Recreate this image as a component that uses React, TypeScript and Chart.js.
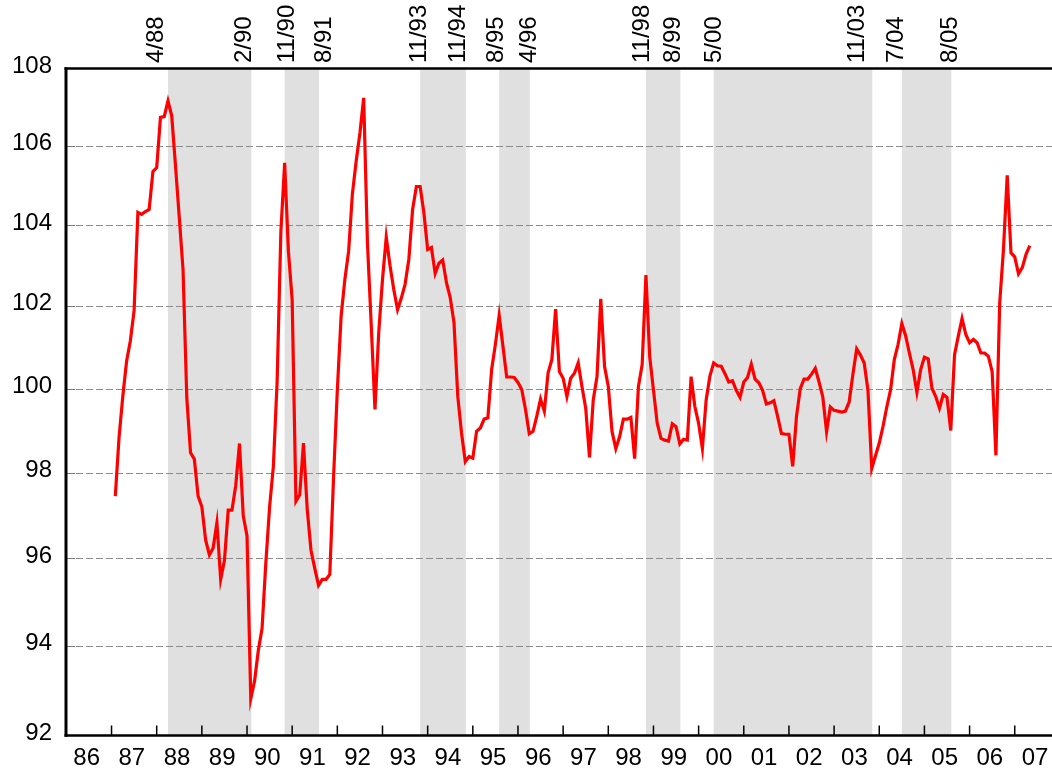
import React, { useEffect, useRef } from 'react';
import { Chart, registerables } from 'chart.js';

Chart.register(...registerables);

// Series: monthly index values, first value = Feb 1987 (month 13 counted from Jan 1986 = 0)
const firstMonthIndex = 13;
const values = [
  97.45, 98.84, 99.82, 100.66, 101.16, 101.9, 104.33, 104.28, 104.35, 104.4, 105.36,
  105.46, 106.74, 106.76, 107.16, 106.78, 105.5, 104.2, 102.9, 99.77, 98.47, 98.32, 97.45,
  97.2, 96.43, 96.08, 96.24, 96.83, 95.52, 95.95, 97.12, 97.12, 97.7, 98.69, 96.99,
  96.52, 92.82, 93.21, 93.9, 94.4, 95.9, 97.2, 98.15, 100.17, 103.86, 105.58, 103.36,
  102.15, 97.33, 97.48, 98.7, 97.14, 96.19, 95.77, 95.38, 95.52, 95.52, 95.63, 97.9,
  99.97, 101.75, 102.66, 103.36, 104.79, 105.62, 106.34, 107.24, 103.57, 101.55, 99.5, 101.36,
  102.66, 103.71, 103.0, 102.41, 101.92, 102.2, 102.54, 103.16, 104.4, 104.98, 104.98, 104.32,
  103.4, 103.45, 102.81, 103.06, 103.14, 102.58, 102.21, 101.6, 99.82, 98.94, 98.26, 98.38,
  98.34, 98.98, 99.06, 99.27, 99.3, 100.46, 101.07, 101.78, 101.03, 100.28, 100.28, 100.27,
  100.15, 99.98, 99.5, 98.92, 98.98, 99.34, 99.75, 99.46, 100.38, 100.7, 101.93, 100.41,
  100.25, 99.81, 100.25, 100.37, 100.62, 100.05, 99.53, 98.36, 99.73, 100.29, 102.18, 100.54,
  100.05, 98.97, 98.57, 98.85, 99.27, 99.27, 99.31, 98.33, 100.05, 100.58, 102.77, 100.78,
  99.97, 99.17, 98.81, 98.77, 98.75, 99.16, 99.09, 98.68, 98.79, 98.77, 100.29, 99.57,
  99.17, 98.57, 99.73, 100.3, 100.62, 100.55, 100.54, 100.36, 100.16, 100.19, 99.96, 99.79,
  100.16, 100.27, 100.59, 100.23, 100.14, 99.96, 99.63, 99.66, 99.71, 99.33, 98.93, 98.91,
  98.91, 98.15, 99.33, 100.0, 100.23, 100.23, 100.35, 100.49, 100.16, 99.8, 98.97, 99.56,
  99.48, 99.46, 99.44, 99.46, 99.68, 100.35, 100.96, 100.81, 100.62, 99.96, 98.1, 98.4,
  98.7, 99.1, 99.56, 99.97, 100.7, 101.07, 101.58, 101.28, 100.86, 100.46, 99.91, 100.46,
  100.76, 100.72, 100.01, 99.81, 99.53, 99.86, 99.79, 99.0, 100.82, 101.27, 101.7, 101.31,
  101.11, 101.19, 101.11, 100.86, 100.86, 100.78, 100.41, 98.41, 102.08, 103.4, 105.26, 103.32,
  103.22, 102.8, 102.95, 103.28, 103.5,
];

const yearLabels = [
  '86', '87', '88', '89', '90', '91', '92', '93', '94', '95', '96',
  '97', '98', '99', '00', '01', '02', '03', '04', '05', '06', '07',
];
const yTicks = [92, 94, 96, 98, 100, 102, 104, 106, 108];

const bandStarts = ['4/88', '11/90', '11/93', '8/95', '11/98', '5/00', '7/04'];
const bandEnds = ['2/90', '8/91', '11/94', '4/96', '8/99', '11/03', '8/05'];

const markerLabels = ['4/88', '2/90', '11/90', '8/91', '11/93', '11/94', '8/95', '4/96', '11/98', '8/99', '5/00', '11/03', '7/04', '8/05'];
// x-scale value (months since Jan 1986) where each rotated label is centred
const markerLabelAt = [23.8, 47.3, 58.7, 68.5, 93.8, 104.1, 114.2, 123.0, 153.0, 161.3, 172.2, 210.1, 220.6, 234.8];

const FONT = '"Liberation Sans", Arial, Helvetica, sans-serif';

function monthIndex(s: string): number {
  const [m, yy] = s.split('/').map(Number);
  const year = yy < 50 ? 2000 + yy : 1900 + yy;
  return (year - 1986) * 12 + (m - 1);
}

const decor = {
  id: 'decor',
  beforeDatasetsDraw(chart: any) {
    const { ctx, chartArea: a, scales } = chart;
    const x = scales.x;
    const y = scales.y;
    ctx.save();
    ctx.beginPath();
    ctx.rect(a.left, a.top, a.right - a.left, a.bottom - a.top);
    ctx.clip();
    ctx.fillStyle = '#e0e0e0';
    bandStarts.forEach((s, i) => {
      const x1 = x.getPixelForValue(monthIndex(s));
      const x2 = x.getPixelForValue(monthIndex(bandEnds[i]) + 0.15);
      ctx.fillRect(x1, a.top, x2 - x1, a.bottom - a.top);
    });
    ctx.strokeStyle = '#8c8c8c';
    ctx.lineWidth = 1;
    ctx.setLineDash([7, 3]);
    yTicks.slice(1, -1).forEach((v) => {
      const py = Math.round(y.getPixelForValue(v)) + 0.5;
      ctx.beginPath();
      ctx.moveTo(a.left, py);
      ctx.lineTo(a.right, py);
      ctx.stroke();
    });
    ctx.restore();
  },
  afterDatasetsDraw(chart: any) {
    const { ctx, chartArea: a, scales } = chart;
    const x = scales.x;
    const y = scales.y;
    ctx.save();
    // inward y ticks
    ctx.strokeStyle = '#7a7a7a';
    ctx.lineWidth = 1;
    yTicks.slice(1, -1).forEach((v) => {
      const py = Math.round(y.getPixelForValue(v)) + 0.5;
      ctx.beginPath();
      ctx.moveTo(a.left, py);
      ctx.lineTo(a.left + 9, py);
      ctx.stroke();
    });
    // frame
    ctx.strokeStyle = '#000';
    ctx.lineWidth = 2.5;
    ctx.beginPath();
    ctx.moveTo(a.left - 1.5, a.top);
    ctx.lineTo(a.right, a.top);
    ctx.moveTo(a.left - 1.5, a.bottom);
    ctx.lineTo(a.right, a.bottom);
    ctx.stroke();
    ctx.lineWidth = 3;
    ctx.beginPath();
    ctx.moveTo(a.left, a.top - 1.2);
    ctx.lineTo(a.left, a.bottom + 1.2);
    ctx.stroke();
    // x tick marks at year boundaries (inward)
    ctx.lineWidth = 1.5;
    for (let k = 1; k < yearLabels.length; k++) {
      const px = x.getPixelForValue(k * 12);
      ctx.beginPath();
      ctx.moveTo(px, a.bottom);
      ctx.lineTo(px, a.bottom - 10);
      ctx.stroke();
    }
    // rotated period labels above the plot
    ctx.fillStyle = '#000';
    ctx.font = `24px ${FONT}`;
    ctx.textAlign = 'left';
    ctx.textBaseline = 'middle';
    markerLabels.forEach((t, i) => {
      const px = x.getPixelForValue(markerLabelAt[i]);
      ctx.save();
      ctx.translate(px, 63);
      ctx.rotate(-Math.PI / 2);
      ctx.fillText(t, 0, 0);
      ctx.restore();
    });
    ctx.restore();
  },
};

function zeroPadding(scale: any) {
  scale.paddingLeft = 0;
  scale.paddingRight = 0;
  scale.paddingTop = 0;
  scale.paddingBottom = 0;
}

export default function App() {
  const ref = useRef<HTMLCanvasElement | null>(null);
  useEffect(() => {
    document.body.style.margin = '0';
    document.body.style.overflow = 'hidden';
    const canvas = ref.current;
    if (!canvas) return;
    const points = values.map((v, i) => ({ x: firstMonthIndex + i, y: v }));
    const chart = new Chart(canvas, {
      type: 'line',
      data: {
        datasets: [
          {
            data: points,
            borderColor: '#ff0000',
            borderWidth: 3.2,
            pointRadius: 0,
            tension: 0,
            fill: false,
          },
        ],
      },
      options: {
        responsive: false,
        devicePixelRatio: 1,
        animation: false,
        parsing: false as any,
        layout: { padding: { top: 68.5, right: 0, bottom: 0, left: 0 } },
        plugins: { legend: { display: false }, tooltip: { enabled: false } },
        scales: {
          x: {
            type: 'linear',
            min: -0.1,
            max: 261.9,
            bounds: 'data',
            grid: { display: false, drawTicks: false },
            border: { display: false },
            afterBuildTicks: (scale: any) => {
              scale.ticks = yearLabels.map((_, k) => ({ value: k * 12 + 6 }));
            },
            afterFit: (scale: any) => {
              scale.height = 40.5;
              zeroPadding(scale);
            },
            ticks: {
              autoSkip: false,
              maxRotation: 0,
              minRotation: 0,
              padding: 8.5,
              labelOffset: -2.3,
              color: '#000',
              font: { family: FONT, size: 24 },
              callback: (_v: any, i: number) => yearLabels[i],
            },
          },
          y: {
            type: 'logarithmic',
            min: 92,
            max: 108,
            bounds: 'data',
            grid: { display: false, drawTicks: false },
            border: { display: false },
            afterBuildTicks: (scale: any) => {
              scale.ticks = yTicks.map((v) => ({ value: v }));
            },
            afterFit: (scale: any) => {
              scale.width = 66;
              zeroPadding(scale);
            },
            ticks: {
              autoSkip: false,
              padding: 14,
              labelOffset: -2.4,
              color: '#000',
              font: { family: FONT, size: 24 },
              callback: (v: any) => String(v),
            },
          },
        },
      } as any,
      plugins: [decor],
    });
    return () => chart.destroy();
  }, []);
  return <canvas ref={ref} width={1052} height={776} style={{ display: 'block', width: 1052, height: 776 }} />;
}
